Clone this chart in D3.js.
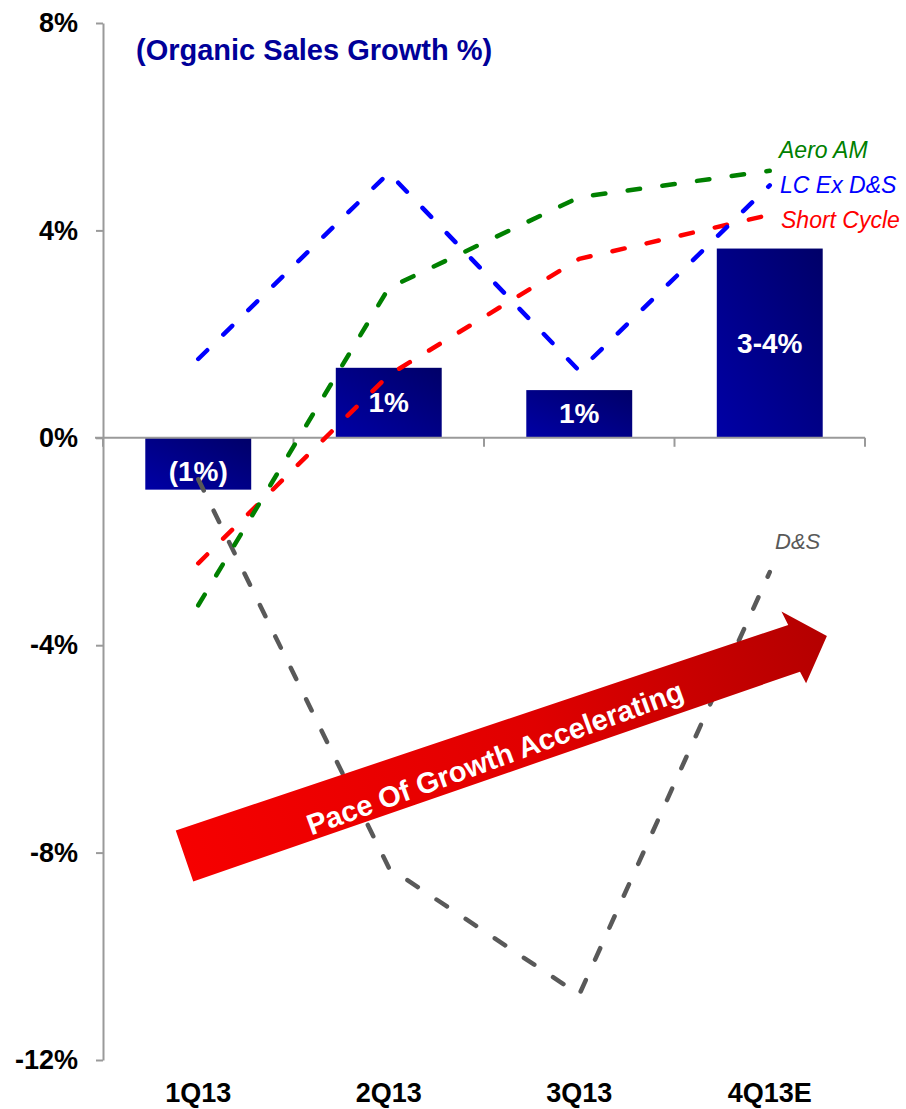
<!DOCTYPE html>
<html>
<head>
<meta charset="utf-8">
<script src="https://cdn.jsdelivr.net/npm/d3@7"></script>
<style>
  html, body { margin: 0; padding: 0; background: #ffffff; }
  svg { display: block; font-family: Arial, "Liberation Sans", sans-serif; }
</style>
</head>
<body>
<svg id="chart" width="906" height="1109"></svg>
<script>
// Quarters on the x axis
const quarters = ["1Q13", "2Q13", "3Q13", "4Q13E"];

// Total organic sales growth (bars) and their printed labels
const totalGrowth = [-1.0, 1.35, 0.92, 3.65];
const totalLabels = ["(1%)", "1%", "1%", "3-4%"];

// Segment growth lines (%)
const aeroAM     = [-3.23, 2.89, 4.64, 5.15];
const lcExDS     = [1.52, 5.11, 1.29, 4.87];
const shortCycle = [-2.42, 1.21, 3.45, 4.30];
const defenseSpace = [-0.80, -8.29, -10.74, -2.59];

// Y axis ticks
const yTicks = [-12, -8, -4, 0, 4, 8];

const title = "(Organic Sales Growth %)";
const arrowText = "Pace Of Growth Accelerating";

const svg = d3.select("#chart");

const x = d3.scaleBand().domain(quarters).range([103, 865]).padding(0);
const y = d3.scaleLinear().domain([-12, 8]).range([1060, 23]);
const cx = q => x(q) + x.bandwidth() / 2;

const defs = svg.append("defs");

// Navy bar gradient
const barGrad = defs.append("linearGradient")
  .attr("id", "barGrad").attr("x1", 0).attr("y1", 1).attr("x2", 1).attr("y2", 0);
barGrad.append("stop").attr("offset", 0).attr("stop-color", "#0000a6");
barGrad.append("stop").attr("offset", 1).attr("stop-color", "#000068");

// Red arrow gradient, tail to head
const arrowLen = 679;
const arrowGrad = defs.append("linearGradient")
  .attr("id", "arrowGrad").attr("gradientUnits", "userSpaceOnUse")
  .attr("x1", 0).attr("y1", 0).attr("x2", arrowLen).attr("y2", -20);
arrowGrad.append("stop").attr("offset", 0).attr("stop-color", "#f60000");
arrowGrad.append("stop").attr("offset", 0.55).attr("stop-color", "#e00000");
arrowGrad.append("stop").attr("offset", 1).attr("stop-color", "#b40000");

// Y axis
const yAxis = d3.axisLeft(y)
  .tickValues(yTicks)
  .tickFormat(d => d + "%")
  .tickSize(7)
  .tickSizeOuter(0)
  .tickPadding(18);

const gy = svg.append("g").attr("transform", "translate(103,0)").call(yAxis);
gy.select(".domain").attr("stroke", "#9a9a9a").attr("stroke-width", 2);
gy.selectAll(".tick line").attr("stroke", "#9a9a9a").attr("stroke-width", 2);
gy.selectAll(".tick text")
  .attr("fill", "#000").attr("font-size", 27).attr("font-weight", "bold")
  .attr("font-family", "Arial, 'Liberation Sans', sans-serif");

// Bars
const barW = x.bandwidth() * 0.556;
svg.append("g").selectAll("rect")
  .data(quarters)
  .join("rect")
  .attr("x", (q) => cx(q) - barW / 2)
  .attr("y", (q, i) => y(Math.max(0, totalGrowth[i])))
  .attr("width", barW)
  .attr("height", (q, i) => Math.abs(y(totalGrowth[i]) - y(0)))
  .attr("fill", "url(#barGrad)");

// Zero baseline with category boundary ticks
const gx = svg.append("g");
gx.append("line")
  .attr("x1", 95).attr("x2", x.range()[1])
  .attr("y1", y(0)).attr("y2", y(0))
  .attr("stroke", "#9a9a9a").attr("stroke-width", 2);
const bounds = quarters.map(q => x(q)).concat([x.range()[1]]);
gx.selectAll("line.b").data(bounds).join("line")
  .attr("class", "b")
  .attr("x1", d => d).attr("x2", d => d)
  .attr("y1", y(0)).attr("y2", y(0) + 9)
  .attr("stroke", "#9a9a9a").attr("stroke-width", 2);

// Category labels
const xAxis = d3.axisBottom(x).tickSize(0).tickPadding(21);
const gxl = svg.append("g").attr("transform", "translate(0,1062)").call(xAxis);
gxl.select(".domain").remove();
gxl.selectAll(".tick text")
  .attr("fill", "#000").attr("font-size", 27).attr("font-weight", "bold")
  .attr("font-family", "Arial, 'Liberation Sans', sans-serif");

// Bar value labels
svg.append("g").selectAll("text")
  .data(quarters)
  .join("text")
  .attr("x", q => cx(q))
  .attr("y", (q, i) => (y(totalGrowth[i]) + y(0)) / 2 + (totalGrowth[i] < 0 ? 8 : 0))
  .attr("text-anchor", "middle")
  .attr("dominant-baseline", "central")
  .attr("fill", "#fff").attr("font-size", 28).attr("font-weight", "bold")
  .text((q, i) => totalLabels[i]);

// Dashed segment lines
const line = d3.line().x((d, i) => cx(quarters[i])).y(d => y(d));
const series = [
  { values: defenseSpace, color: "#595959" },
  { values: shortCycle, color: "#ff0000" },
  { values: aeroAM, color: "#008000" },
  { values: lcExDS, color: "#0000ff" }
];
svg.append("g").selectAll("path")
  .data(series)
  .join("path")
  .attr("d", s => line(s.values))
  .attr("fill", "none")
  .attr("stroke", s => s.color)
  .attr("stroke-width", 4.5)
  .attr("stroke-linecap", "round")
  .attr("stroke-linejoin", "round")
  .attr("stroke-dasharray", "12.5,22.5");

// Series labels
const seriesLabels = [
  { text: "Aero AM", color: "#008000", x: 779, y: 158 },
  { text: "LC Ex D&S", color: "#0000ff", x: 780, y: 193 },
  { text: "Short Cycle", color: "#ff0000", x: 781, y: 228 },
  { text: "D&S", color: "#595959", x: 775, y: 549 }
];
svg.append("g").selectAll("text")
  .data(seriesLabels)
  .join("text")
  .attr("x", d => d.x).attr("y", d => d.y)
  .attr("fill", d => d.color)
  .attr("font-size", d => d.text === "D&S" ? 22 : 23)
  .attr("font-style", "italic")
  .text(d => d.text);

// Title
svg.append("text")
  .attr("x", 136).attr("y", 60)
  .attr("fill", "#000099")
  .attr("font-size", 29).attr("font-weight", "bold")
  .text(title);

// Growth arrow
const shaftHalf = 27, headHalf = 38, headStart = 644;
const arrowPts = [
  [0, -shaftHalf], [headStart + 2, -shaftHalf + 4], [headStart, -headHalf],
  [arrowLen, 0], [headStart, headHalf], [headStart - 2, shaftHalf - 2], [0, shaftHalf]
];
const ga = svg.append("g").attr("transform", "translate(184.5,856) rotate(-18.9)");
ga.append("path")
  .attr("d", d3.line()(arrowPts) + "Z")
  .attr("fill", "url(#arrowGrad)");

svg.append("text")
  .attr("transform", "translate(495,758) rotate(-20)")
  .attr("text-anchor", "middle")
  .attr("dominant-baseline", "central")
  .attr("fill", "#fff").attr("font-size", 29).attr("font-weight", "bold")
  .text(arrowText);
</script>
</body>
</html>
